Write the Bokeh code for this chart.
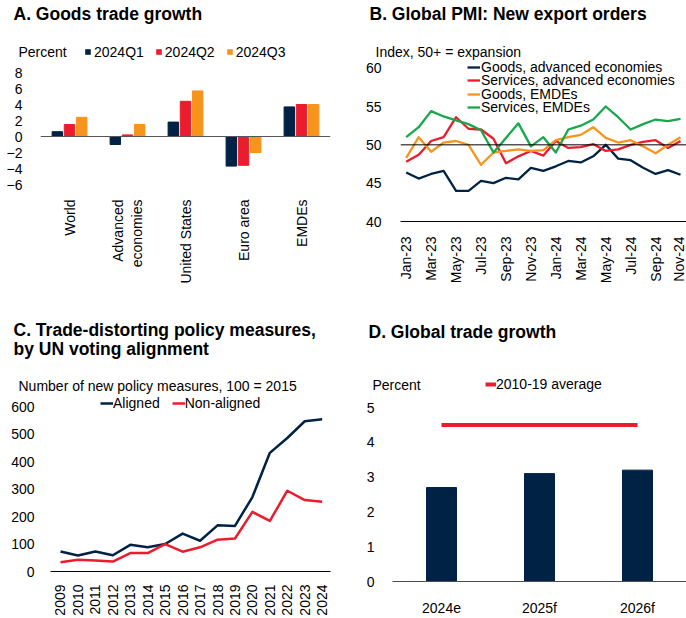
from bokeh.plotting import figure
from bokeh.models import (ColumnDataSource, FactorRange, Range1d, Span, Label,
                          Legend, LegendItem, FixedTicker)
from bokeh.transform import dodge
from bokeh.layouts import row, column
from bokeh.embed import file_html
from bokeh.resources import INLINE

FONT = "Liberation Sans"
NAVY = "#002244"
RED = "#eb1c2d"
ORANGE = "#f7941d"
GREEN = "#17a84b"
VERT = 3.141592653589793 / 2

# ---------------- data ----------------
# A. Goods trade growth
regions = ["World", "Advanced\neconomies", "United States", "Euro area", "EMDEs"]
q1 = [0.6, -1.0, 1.8, -3.7, 3.7]
q2 = [1.5, 0.2, 4.4, -3.6, 4.0]
q3 = [2.4, 1.5, 5.7, -2.0, 4.0]
quarters = ["2024Q1", "2024Q2", "2024Q3"]
a_ticks = [-6, -4, -2, 0, 2, 4, 6, 8]

# B. Global PMI: New export orders
months = ["Jan-23", "Feb-23", "Mar-23", "Apr-23", "May-23", "Jun-23", "Jul-23", "Aug-23",
          "Sep-23", "Oct-23", "Nov-23", "Dec-23", "Jan-24", "Feb-24", "Mar-24", "Apr-24",
          "May-24", "Jun-24", "Jul-24", "Aug-24", "Sep-24", "Oct-24", "Nov-24"]
goods_ae = [46.4, 45.6, 46.2, 46.6, 44.0, 44.0, 45.3, 45.0, 45.7, 45.5, 47.0, 46.6,
            47.2, 47.9, 47.7, 48.5, 50.0, 48.2, 48.0, 47.0, 46.2, 46.7, 46.1]
services_ae = [47.8, 48.7, 50.5, 51.0, 53.6, 52.1, 52.0, 50.8, 47.6, 48.5, 49.2, 48.6,
               50.5, 49.6, 49.7, 50.1, 49.2, 49.4, 50.0, 50.4, 50.6, 49.6, 50.5]
goods_emde = [48.3, 51.0, 49.1, 50.3, 50.5, 50.0, 47.4, 49.0, 49.2, 49.4, 49.2, 49.3,
              50.6, 51.0, 51.3, 52.3, 50.9, 50.3, 50.6, 49.8, 48.9, 50.0, 51.0]
services_emde = [51.0, 52.3, 54.4, 53.7, 53.2, 52.7, 51.9, 49.0, 50.9, 52.8, 49.8, 51.0,
                 49.0, 52.0, 52.5, 53.3, 55.0, 53.6, 52.0, 52.7, 53.3, 53.1, 53.4]
b_series = ["Goods, advanced economies", "Services, advanced economies",
            "Goods, EMDEs", "Services, EMDEs"]
b_ticks = [40, 45, 50, 55, 60]

# C. Trade-distorting policy measures
years = [2009, 2010, 2011, 2012, 2013, 2014, 2015, 2016, 2017, 2018, 2019, 2020,
         2021, 2022, 2023, 2024]
aligned = [73, 58, 73, 59, 97, 88, 100, 138, 112, 168, 166, 271, 432, 486, 547, 554]
non_aligned = [34, 43, 40, 36, 67, 67, 100, 72, 88, 116, 120, 217, 184, 294, 260, 254]
c_series = ["Aligned", "Non-aligned"]
c_ticks = [0, 100, 200, 300, 400, 500, 600]

# D. Global trade growth
d_labels = ["2024e", "2025f", "2026f"]
d_values = [2.7, 3.1, 3.2]
d_avg = 4.5
d_avg_label = "2010-19 average"
d_ticks = [0, 1, 2, 3, 4, 5]


# ---------------- helpers ----------------
def header(width, height):
    h = figure(width=width, height=height, x_range=Range1d(0, width),
               y_range=Range1d(height, 0), x_axis_type=None, y_axis_type=None,
               output_backend="svg", toolbar_location=None, min_border=0,
               min_border_left=0, min_border_right=0, min_border_top=0,
               min_border_bottom=0, frame_align=False)
    h.outline_line_color = None
    h.xgrid.visible = False
    h.ygrid.visible = False
    h.background_fill_color = None
    h.border_fill_color = "white"
    return h


def text(h, s, x, base, size, bold=False):
    # label anchor is the text's vertical middle; shift from the baseline
    h.add_layout(Label(x=x, y=base - 0.36 * size, text=s, text_font=FONT,
                       text_font_size=f"{size}px",
                       text_font_style="bold" if bold else "normal",
                       text_baseline="alphabetic", text_align="left",
                       text_color="#000000"))


def plot(width, height, left, right, top, bottom, x_range, y_range):
    p = figure(width=width, height=height, x_range=x_range, y_range=y_range,
               output_backend="svg", toolbar_location=None, min_border=0,
               min_border_left=left, min_border_right=right,
               min_border_top=top, min_border_bottom=bottom, frame_align=False)
    p.outline_line_color = None
    p.xgrid.visible = False
    p.ygrid.visible = False
    p.background_fill_color = None
    p.border_fill_color = "white"
    for ax in p.axis:
        ax.major_tick_line_color = None
        ax.minor_tick_line_color = None
        ax.major_label_text_font = FONT
        ax.major_label_text_font_size = "14px"
        ax.major_label_text_color = "#000000"
    p.yaxis.axis_line_color = None
    return p


def legend(fig, items, x, bottom, orientation, **kw):
    leg = Legend(items=items, orientation=orientation, location=(x, bottom),
                 padding=0, margin=0, border_line_color=None,
                 background_fill_alpha=0, label_text_font=FONT,
                 label_text_font_size="14px", label_text_color="#000000", **kw)
    fig.add_layout(leg)


# ---------------- A ----------------
ha = header(333, 60)
text(ha, "A. Goods trade growth", 13, 19.5, 17.5, bold=True)
text(ha, "Percent", 18, 57, 14)
# legend swatches (zero-size keys that only carry the style)
da = [ha.vbar(x=[0], top=[0], width=0, fill_color=c, line_alpha=0) for c in (NAVY, RED, ORANGE)]
legend(ha, [LegendItem(label=q, renderers=[r]) for q, r in zip(quarters, da)],
       84, 60 - 51.7 - 8, "horizontal", glyph_width=7, glyph_height=7,
       label_standoff=3, spacing=11, label_height=16)

pa = plot(333, 236, 40, 3, 12, 112, FactorRange(*regions), Range1d(-6, 8))
src_a = ColumnDataSource(dict(region=regions, q1=q1, q2=q2, q3=q3))
for col, c, off in (("q1", NAVY, -0.21), ("q2", RED, 0.0), ("q3", ORANGE, 0.21)):
    pa.vbar(x=dodge("region", off, range=pa.x_range), top=col, width=0.18,
            source=src_a, color=c)
pa.add_layout(Span(location=0, dimension="width", line_color="#555555", line_width=1.2))
pa.yaxis.ticker = FixedTicker(ticks=a_ticks)
pa.yaxis.major_label_standoff = 12
pa.xaxis.axis_line_color = None
pa.xaxis.major_label_orientation = VERT
pa.xaxis.major_label_standoff = 9

# ---------------- B ----------------
hb = header(353, 60)
text(hb, "B. Global PMI: New export orders", 36, 19.5, 17.5, bold=True)
text(hb, "Index, 50+ = expansion", 42, 57, 14)

xb = list(range(len(months)))
pb = plot(353, 236, 67, 0, 0, 75, Range1d(-0.457, 22.48), Range1d(40, 61))
src_b = ColumnDataSource(dict(x=xb, g_ae=goods_ae, s_ae=services_ae,
                              g_em=goods_emde, s_em=services_emde))
rb = []
for col, c in zip(["g_ae", "s_ae", "g_em", "s_em"], [NAVY, RED, ORANGE, GREEN]):
    rb.append(pb.line(x="x", y=col, source=src_b, line_color=c, line_width=2.3,
                      line_join="round"))
pb.add_layout(Span(location=50, dimension="width", line_color="#000000", line_width=1))
pb.yaxis.ticker = FixedTicker(ticks=b_ticks)
pb.yaxis.major_label_standoff = 13
pb.xaxis.axis_line_color = "#000000"
pb.xaxis.ticker = FixedTicker(ticks=xb[::2])
pb.xaxis.major_label_overrides = {i: months[i] for i in xb[::2]}
pb.xaxis.major_label_orientation = VERT
pb.xaxis.major_label_standoff = 9
# one legend per row so the rows sit at the reference spacing
b_rows = [68.0, 81.3, 94.6, 107.9]
for n, r, yc in zip(b_series, rb, b_rows):
    legend(pb, [LegendItem(label=n, renderers=[r])], 67, (221 - 60) - (yc - 60) - 7,
           "vertical", glyph_width=13, glyph_height=14,
           label_standoff=1, spacing=0, label_height=14)

# ---------------- C ----------------
hc = header(333, 99)
text(hc, "C. Trade-distorting policy measures,", 13, 39.7, 17.5, bold=True)
text(hc, "by UN voting alignment", 13, 58.5, 17.5, bold=True)
text(hc, "Number of new policy measures, 100 = 2015", 18, 95, 14)

pc = plot(333, 223, 50, 3, 0, 45, Range1d(2008.427, 2024.476), Range1d(0, 640.7))
src_c = ColumnDataSource(dict(year=years, aligned=aligned, non=non_aligned))
rc1 = pc.line(x="year", y="aligned", source=src_c, line_color=NAVY, line_width=2.5,
              line_join="round")
rc2 = pc.line(x="year", y="non", source=src_c, line_color=RED, line_width=2.5,
              line_join="round")
pc.yaxis.ticker = FixedTicker(ticks=c_ticks)
pc.yaxis.major_label_standoff = 10
pc.xaxis.axis_line_color = "#000000"
pc.xaxis.ticker = FixedTicker(ticks=years)
pc.xaxis.major_label_overrides = {y: str(y) for y in years}
pc.xaxis.major_label_orientation = VERT
pc.xaxis.major_label_standoff = 7
legend(pc, [LegendItem(label=c_series[0], renderers=[rc1]),
            LegendItem(label=c_series[1], renderers=[rc2])],
       50, 160, "horizontal", glyph_width=13, glyph_height=16,
       label_standoff=0, spacing=12, label_height=16)

# ---------------- D ----------------
hd = header(353, 102)
text(hd, "D. Global trade growth", 35, 41.5, 17.5, bold=True)
text(hd, "Percent", 39, 94, 14)
dd = hd.segment(x0=[0], y0=[0], x1=[0], y1=[0], line_color=RED, line_width=4)
legend(hd, [LegendItem(label=d_avg_label, renderers=[dd])],
       152, 102 - 88.3 - 8, "horizontal", glyph_width=11, glyph_height=16,
       label_standoff=0, spacing=0, label_height=16)

xd = list(range(len(d_labels)))
pd_ = plot(353, 220, 59, 0, 9, 30, Range1d(-0.5, 2.5), Range1d(0, 5))
src_d = ColumnDataSource(dict(x=xd, v=d_values))
pd_.vbar(x="x", top="v", width=0.306, source=src_d, color=NAVY)
pd_.segment(x0=xd[0], y0=d_avg, x1=xd[-1], y1=d_avg, line_color=RED, line_width=4)
pd_.yaxis.ticker = FixedTicker(ticks=d_ticks)
pd_.yaxis.major_label_standoff = 12
pd_.xaxis.axis_line_color = "#4d4d4d"
pd_.xaxis.ticker = FixedTicker(ticks=xd)
pd_.xaxis.major_label_overrides = {i: d_labels[i] for i in xd}
pd_.xaxis.major_label_standoff = 12

layout = column(row(column(ha, pa), column(hb, pb)),
                row(column(hc, pc), column(hd, pd_)))
open("out.html", "w").write(file_html(layout, INLINE))
